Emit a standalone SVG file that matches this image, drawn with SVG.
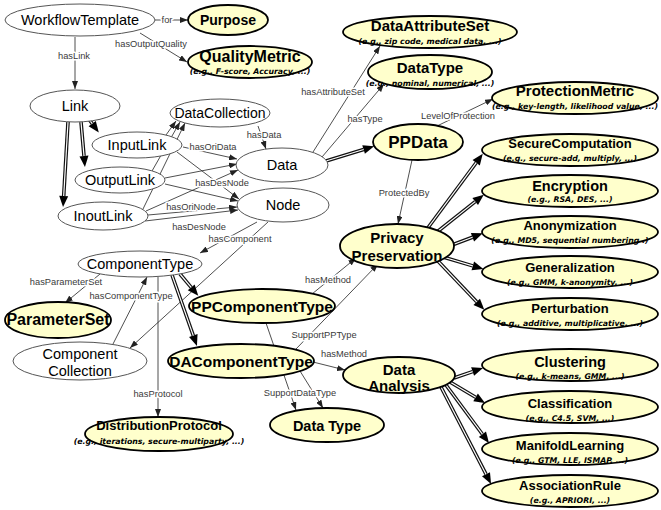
<svg xmlns="http://www.w3.org/2000/svg" width="661" height="510" viewBox="0 0 661 510">
<style>
.w{fill:#fff;stroke:#555;stroke-width:1}
.y{fill:#ffffcc;stroke:#000;stroke-width:1.8}
text{font-family:"Liberation Sans",Arial,sans-serif;text-anchor:middle;fill:#000}
.n{font-size:14.5px}
.b{font-weight:bold}
.s{font-family:"DejaVu Sans",Verdana,sans-serif;font-size:7.8px;font-weight:bold;font-style:italic}
.l{font-size:9.3px;fill:#3a3a3a;stroke:#fff;stroke-width:3px;paint-order:stroke;stroke-linejoin:round}
.e{fill:none;stroke:#222;stroke-width:0.8;marker-end:url(#a)}
.sb{fill:none;stroke:#111;stroke-width:3.6;marker-end:url(#h)}
.sw{fill:none;stroke:#fff;stroke-width:1.2}
</style>
<defs>
<marker id="a" markerUnits="userSpaceOnUse" markerWidth="8" markerHeight="6" refX="8" refY="3" orient="auto"><path d="M0,0L8,3L0,6z" fill="#222"/></marker>
<marker id="h" markerUnits="userSpaceOnUse" markerWidth="12" markerHeight="10" refX="0" refY="4.5" orient="auto" overflow="visible"><path d="M0,0L11,4.5L0,9z" fill="#000"/></marker>
</defs>
<rect width="661" height="510" fill="#fff"/>
<g id="connectors">
<path class="e" d="M155,20L188,20"/>
<path class="e" d="M140,33L187,62"/>
<path class="e" d="M75,37L75,89"/>
<path class="e" d="M166,135L176,121"/>
<path class="e" d="M152,171L180,122"/>
<path class="e" d="M143,209L185,123"/>
<path class="e" d="M183,147L237,159"/>
<path class="e" d="M177,152L239,199"/>
<path class="e" d="M165,178L237,164"/>
<path class="e" d="M165,184L238,201"/>
<path class="e" d="M146,211L238,170"/>
<path class="e" d="M148,215L237,207"/>
<path class="e" d="M145,221L238,210"/>
<path class="e" d="M258,126L266,149"/>
<path class="e" d="M257,222L200,253"/>
<path class="e" d="M268,222L130,348"/>
<path class="e" d="M100,274L65,303"/>
<path class="e" d="M113,344L147,277"/>
<path class="e" d="M158,277L158,417"/>
<path class="e" d="M312,294L356,258"/>
<path class="e" d="M296,349L378,264"/>
<path class="e" d="M266,323L296,410"/>
<path class="e" d="M300,371L323,408"/>
<path class="e" d="M313,362L345,370"/>
<path class="e" d="M412,160L398,224"/>
<path class="e" d="M437,126L493,99"/>
<path class="e" d="M313,152L380,46"/>
<path class="e" d="M322,157L384,84"/>
<path class="sb" d="M88,118L92.2,123.6"/><path class="sw" d="M88,118L92.2,123.6"/>
<path class="sb" d="M81,122L84,156"/><path class="sw" d="M81,122L84,156"/>
<path class="sb" d="M68,122L63.7,196"/><path class="sw" d="M68,122L63.7,196"/>
<path class="sb" d="M326,161L363.6,149.5"/><path class="sw" d="M326,161L363.6,149.5"/>
<path class="sb" d="M180,274L191.2,287.3"/><path class="sw" d="M180,274L191.2,287.3"/>
<path class="sb" d="M172,275L193.3,335.6"/><path class="sw" d="M172,275L193.3,335.6"/>
<path class="sb" d="M427,229L476.2,162.7"/><path class="sw" d="M427,229L476.2,162.7"/>
<path class="sb" d="M437,232L475.2,201.6"/><path class="sw" d="M437,232L475.2,201.6"/>
<path class="sb" d="M452,245L472.5,237.2"/><path class="sw" d="M452,245L472.5,237.2"/>
<path class="sb" d="M443,257L472.8,265.9"/><path class="sw" d="M443,257L472.8,265.9"/>
<path class="sb" d="M437,260L476.7,301.8"/><path class="sw" d="M437,260L476.7,301.8"/>
<path class="sb" d="M454,378L472.6,371.6"/><path class="sw" d="M454,378L472.6,371.6"/>
<path class="sb" d="M450,382L475.6,397.3"/><path class="sw" d="M450,382L475.6,397.3"/>
<path class="sb" d="M446,385L482.4,434.2"/><path class="sw" d="M446,385L482.4,434.2"/>
<path class="sb" d="M441,387L486,474.2"/><path class="sw" d="M441,387L486,474.2"/>
<text class="l" x="167" y="23">for</text>
<text class="l" x="151" y="47">hasOutputQuality</text>
<text class="l" x="74" y="59">hasLink</text>
<text class="l" x="213" y="150">hasOriData</text>
<text class="l" x="264" y="138">hasData</text>
<text class="l" x="222" y="186">hasDesNode</text>
<text class="l" x="191" y="210">hasOriNode</text>
<text class="l" x="199" y="230">hasDesNode</text>
<text class="l" x="240" y="242">hasComponent</text>
<text class="l" x="66" y="285">hasParameterSet</text>
<text class="l" x="131" y="299">hasComponentType</text>
<text class="l" x="158" y="397">hasProtocol</text>
<text class="l" x="328" y="283">hasMethod</text>
<text class="l" x="324" y="338">SupportPPType</text>
<text class="l" x="344" y="357">hasMethod</text>
<text class="l" x="300" y="396">SupportDataType</text>
<text class="l" x="404" y="196">ProtectedBy</text>
<text class="l" x="458" y="119">LevelOfProtection</text>
<text class="l" x="333" y="95">hasAttributeSet</text>
<text class="l" x="365" y="122">hasType</text>
</g>
<g id="n-workflowtemplate"><ellipse class="w" cx="80" cy="20" rx="75" ry="16"/><text class="n" x="80" y="25">WorkflowTemplate</text></g>
<g id="n-purpose"><ellipse class="y" cx="228" cy="20" rx="40" ry="15"/><text class="b" style="font-size:14px" x="228" y="25">Purpose</text></g>
<g id="n-qualitymetric"><ellipse class="y" cx="250" cy="62" rx="62" ry="16"/><text class="b" style="font-size:16px" x="250" y="62">QualityMetric</text><text class="s" x="250" y="74">(e.g., F-score, Accuracy, ...)</text></g>
<g id="n-link"><ellipse class="w" cx="75" cy="106" rx="45" ry="16"/><text class="n" x="75" y="111">Link</text></g>
<g id="n-datacollection"><ellipse class="w" cx="220" cy="113" rx="50" ry="14"/><text class="n" style="font-size:14px" x="220" y="118">DataCollection</text></g>
<g id="n-inputlink"><ellipse class="w" cx="137" cy="145" rx="45" ry="13"/><text class="n" x="137" y="150">InputLink</text></g>
<g id="n-outputlink"><ellipse class="w" cx="120" cy="180" rx="45" ry="13"/><text class="n" x="120" y="185">OutputLink</text></g>
<g id="n-inoutlink"><ellipse class="w" cx="103" cy="216" rx="45" ry="14"/><text class="n" x="103" y="221">InoutLink</text></g>
<g id="n-data"><ellipse class="w" cx="282" cy="165" rx="46" ry="17"/><text class="n" x="282" y="170">Data</text></g>
<g id="n-node"><ellipse class="w" cx="283" cy="205" rx="46" ry="17"/><text class="n" x="283" y="210">Node</text></g>
<g id="n-componenttype"><ellipse class="w" cx="140" cy="264" rx="62" ry="13"/><text class="n" x="140" y="269">ComponentType</text></g>
<g id="n-parameterset"><ellipse class="y" cx="58" cy="320" rx="53" ry="18"/><text class="b" style="font-size:16px" x="58" y="325">ParameterSet</text></g>
<g id="n-componentcollection"><ellipse class="w" cx="80" cy="361" rx="67" ry="19"/><text class="n" x="80" y="359">Component</text><text class="n" x="80" y="375.5">Collection</text></g>
<g id="n-ppcomponenttype"><ellipse class="y" cx="262" cy="306" rx="73" ry="17"/><text class="b" style="font-size:15.5px" x="262" y="312">PPComponentType</text></g>
<g id="n-dacomponenttype"><ellipse class="y" cx="241" cy="361" rx="73" ry="17"/><text class="b" style="font-size:15.5px" x="241" y="367">DAComponentType</text></g>
<g id="n-distributionprotocol"><ellipse class="y" cx="159" cy="434" rx="74" ry="17"/><text class="b" style="font-size:13px" x="159" y="430">DistributionProtocol</text><text class="s" x="159" y="444">(e.g., iterations, secure-multiparty, ...)</text></g>
<g id="n-datatype-bottom"><ellipse class="y" cx="327" cy="425" rx="57" ry="17"/><text class="b" style="font-size:14.5px" x="327" y="430.5">Data Type</text></g>
<g id="n-privacypreservation"><ellipse class="y" cx="397" cy="246" rx="57" ry="22"/><text class="b" style="font-size:15px" x="397" y="243">Privacy</text><text class="b" style="font-size:15px" x="397" y="261">Preservation</text></g>
<g id="n-dataanalysis"><ellipse class="y" cx="399" cy="375" rx="56" ry="18"/><text class="b" style="font-size:15px" x="399" y="375">Data</text><text class="b" style="font-size:15px" x="399" y="391">Analysis</text></g>
<g id="n-ppdata"><ellipse class="y" cx="418" cy="142" rx="45" ry="18"/><text class="b" style="font-size:17px" x="418" y="148">PPData</text></g>
<g id="n-dataattributeset"><ellipse class="y" cx="430" cy="32" rx="87" ry="16"/><text class="b" style="font-size:15px" x="430" y="31">DataAttributeSet</text><text class="s" x="430" y="44">(e.g., zip code, medical data, ...)</text></g>
<g id="n-datatype"><ellipse class="y" cx="430" cy="72" rx="62" ry="17"/><text class="b" style="font-size:15px" x="430" y="73">DataType</text><text class="s" x="430" y="86">(e.g., nominal, numerical, ...)</text></g>
<g id="n-protectionmetric"><ellipse class="y" cx="575" cy="98" rx="83" ry="16"/><text class="b" style="font-size:15px" x="575" y="96">ProtectionMetric</text><text class="s" x="575" y="109">(e.g., key-length, likelihood value, ...)</text></g>
<g id="n-securecomputation"><ellipse class="y" cx="570" cy="150" rx="88" ry="16"/><text class="b" style="font-size:13px" x="570" y="148">SecureComputation</text><text class="s" x="570" y="161">(e.g., secure-add, multiply, ...)</text></g>
<g id="n-encryption"><ellipse class="y" cx="570" cy="191" rx="88" ry="16"/><text class="b" style="font-size:14.5px" x="570" y="190.5">Encryption</text><text class="s" x="570" y="202">(e.g., RSA, DES, ...)</text></g>
<g id="n-anonymization"><ellipse class="y" cx="570" cy="232" rx="88" ry="16"/><text class="b" style="font-size:13px" x="570" y="230">Anonymization</text><text class="s" x="570" y="243">(e.g., MD5, sequential numbering .)</text></g>
<g id="n-generalization"><ellipse class="y" cx="570" cy="272" rx="88" ry="16"/><text class="b" style="font-size:13px" x="570" y="271.5">Generalization</text><text class="s" x="570" y="285">(e.g., GMM, k-anonymity, ...)</text></g>
<g id="n-perturbation"><ellipse class="y" cx="570" cy="314" rx="88" ry="16"/><text class="b" style="font-size:13px" x="570" y="312.5">Perturbation</text><text class="s" x="570" y="326">(e.g., additive, multiplicative, ...)</text></g>
<g id="n-clustering"><ellipse class="y" cx="570" cy="365" rx="88" ry="16"/><text class="b" style="font-size:14.5px" x="570" y="367">Clustering</text><text class="s" x="570" y="379">(e.g., k-means, GMM, ...)</text></g>
<g id="n-classification"><ellipse class="y" cx="570" cy="407" rx="88" ry="16"/><text class="b" style="font-size:13px" x="570" y="407.5">Classification</text><text class="s" x="570" y="421">(e.g., C4.5, SVM, ...)</text></g>
<g id="n-manifoldlearning"><ellipse class="y" cx="570" cy="449" rx="88" ry="16"/><text class="b" style="font-size:13px" x="570" y="449.5">ManifoldLearning</text><text class="s" x="570" y="463">(e.g., GTM, LLE, ISMAP, ...)</text></g>
<g id="n-associationrule"><ellipse class="y" cx="570" cy="491" rx="88" ry="16"/><text class="b" style="font-size:13px" x="570" y="490">AssociationRule</text><text class="s" x="570" y="503">(e.g., APRIORI, ...)</text></g>
</svg>
